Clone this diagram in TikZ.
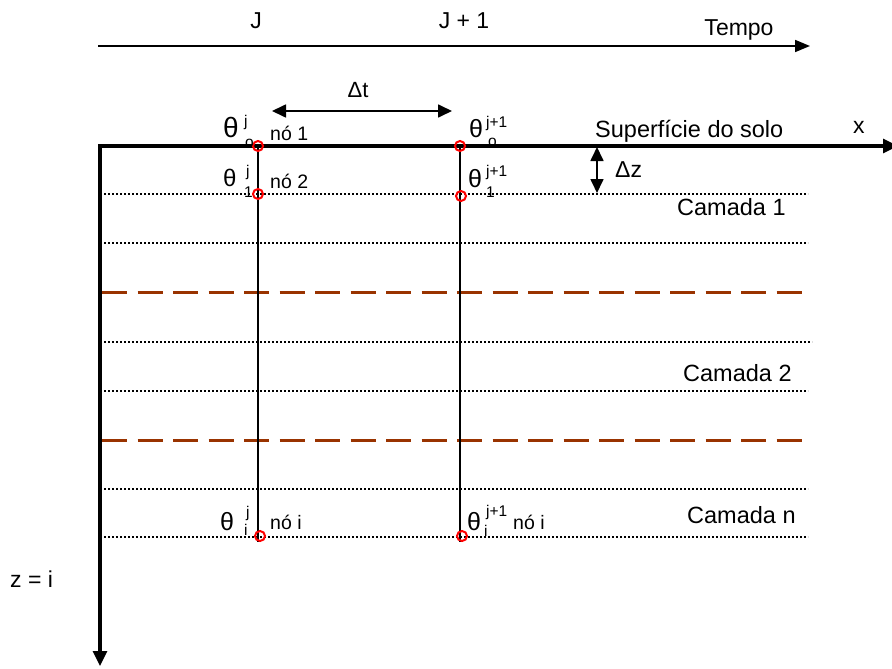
\documentclass[tikz,border=0pt]{standalone}
\usepackage{fontspec}
\setmainfont{Liberation Sans}
\usetikzlibrary{arrows.meta}
\definecolor{layerbrown}{HTML}{993300}

\begin{document}
\begin{tikzpicture}[x=1pt,y=-1pt,
  lbl/.style={inner sep=0pt,anchor=base west,font=\fontsize{23}{23}\selectfont},
  mid/.style={inner sep=0pt,anchor=base west,font=\fontsize{19.5}{19.5}\selectfont},
  small/.style={inner sep=0pt,anchor=base west,font=\fontsize{15.5}{15.5}\selectfont},
  nodept/.style={circle,draw=red,line width=2pt,minimum size=10pt,inner sep=0pt},
  axisline/.style={line width=3.2pt,-{Triangle[length=15pt,width=14pt]}},
  thin/.style={line width=1.7pt},
  gridline/.style={line width=2.2pt,dash pattern=on 2pt off 2pt},
  layerline/.style={draw=layerbrown,line width=3pt,dash pattern=on 25pt off 10.5pt},
  dbl/.style={line width=1.7pt,{Triangle[length=14pt,width=13pt]}-{Triangle[length=14pt,width=13pt]}}
]
\useasboundingbox (0,0) rectangle (892,669);

% time axis
\coordinate (t0) at (98,46);
\coordinate (t1) at (810,46);
\draw[thin,-{Triangle[length=15pt,width=12pt]}] (t0) -- (t1);
\node[lbl,anchor=base] (J) at (256,29) {J};
\node[lbl,anchor=base] (J1) at (464,29) {J + 1};
\node[lbl,anchor=base] (tempo) at (739,36) {Tempo};

% spacing in time
\coordinate (dt0) at (272,111);
\coordinate (dt1) at (452,111);
\draw[dbl] (dt0) -- (dt1);
\node[inner sep=0pt,anchor=base,font=\fontsize{22}{22}\selectfont] (dtl) at (358,98) {Δt};

% horizontal grid: dotted rows and dashed layer limits
\foreach \y/\xe in {194/808,243/808,342/812,391/808,489/808,537/808}
  \draw[gridline] (100,\y) -- (\xe,\y);
\foreach \y in {292,440}
  \draw[layerline] (102,\y) -- (810,\y);

% axes
\coordinate (O) at (100,146);
\coordinate (xend) at (898,146);
\coordinate (ztop) at (100,144.4);
\coordinate (zend) at (100,666);
\draw[axisline] (O) -- (xend);
\draw[axisline] (ztop) -- (zend);
\node[lbl] (xl) at (853,133) {x};
\node[lbl] (zl) at (10,587) {z = i};

% time levels
\coordinate (a0) at (258,146);
\coordinate (a1) at (258,542);
\coordinate (b0) at (460,146);
\coordinate (b1) at (460,542);
\draw[thin] (a0) -- (a1);
\draw[thin] (b0) -- (b1);

% depth spacing
\coordinate (dz0) at (597,147);
\coordinate (dz1) at (597,193);
\draw[dbl] (dz0) -- (dz1);
\node[lbl] (dzl) at (615,177) {Δz};

% labels
\node[lbl,font=\fontsize{23.5}{23.5}\selectfont] (sup) at (595,137) {Superfície do solo};
\node[lbl,font=\fontsize{23.5}{23.5}\selectfont] (c1) at (677,215) {Camada 1};
\node[lbl,font=\fontsize{23.5}{23.5}\selectfont] (c2) at (683,381) {Camada 2};
\node[lbl,font=\fontsize{23.5}{23.5}\selectfont] (cn) at (687,523) {Camada n};

% nodes of the grid
\node[nodept] (p1) at (258,146) {};
\node[nodept] (q1) at (460,146) {};
\node[nodept] (p2) at (258,194) {};
\node[nodept] (q2) at (461,196) {};
\node[nodept] (pn) at (260,536) {};
\node[nodept] (qn) at (462,536) {};

\node[mid] (n1) at (270,140) {nó 1};
\node[mid] (n2) at (270,188) {nó 2};
\node[mid] (ni) at (270,529) {nó i};
\node[mid] (ni2) at (513,529) {nó i};

% theta at time J
\node[lbl,font=\fontsize{28}{28}\selectfont] (th0) at (223,137) {θ};
\node[small] (th0s) at (244,126.5) {j};
\node[small] (th0b) at (245,147.5) {o};
\node[lbl,font=\fontsize{24}{24}\selectfont] (th1) at (223,186) {θ};
\node[small] (th1s) at (246,176) {j};
\node[small] (th1b) at (244,197) {1};
\node[lbl,font=\fontsize{25}{25}\selectfont] (thi) at (220,530) {θ};
\node[small] (this) at (246,517) {j};
\node[small] (thib) at (244,535) {i};

% theta at time J + 1
\node[lbl,font=\fontsize{25}{25}\selectfont] (tq0) at (469,137) {θ};
\node[small] (tq0s) at (486,127) {j+1};
\node[small] (tq0b) at (488,146) {o};
\node[lbl,font=\fontsize{25}{25}\selectfont] (tq1) at (468,187) {θ};
\node[small] (tq1s) at (486,176) {j+1};
\node[small] (tq1b) at (486,197) {1};
\node[lbl,font=\fontsize{25}{25}\selectfont] (tqi) at (467,530) {θ};
\node[small] (tqis) at (486,516) {j+1};
\node[small] (tqib) at (484,536) {i};
\end{tikzpicture}
\end{document}
